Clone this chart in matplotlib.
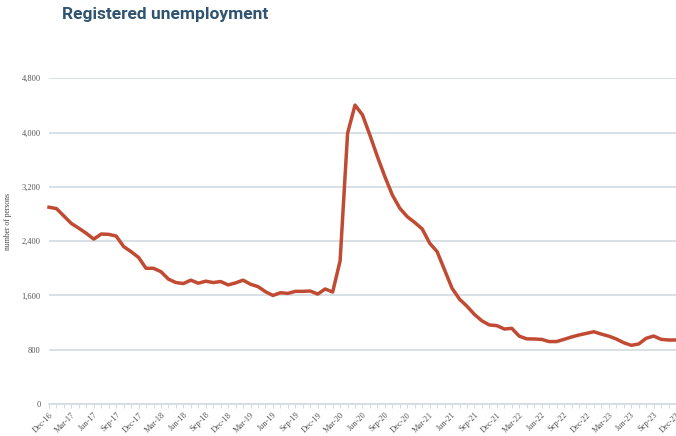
import numpy as np
import pandas as pd
import matplotlib
matplotlib.use("Agg")
import matplotlib.pyplot as plt
from matplotlib.ticker import MultipleLocator, FuncFormatter

# Monthly registered unemployment, Dec-16 .. Dec-23
months = pd.date_range("2016-12-01", "2023-12-01", freq="MS")
unemployed = [
    2900,
    2880, 2770, 2660, 2590, 2515, 2430, 2505, 2500, 2475, 2320, 2245, 2160,   # 2017
    2000, 2000, 1950, 1840, 1790, 1775, 1825, 1780, 1810, 1790, 1805, 1755,   # 2018
    1785, 1825, 1765, 1730, 1655, 1600, 1640, 1630, 1660, 1660, 1665, 1620,   # 2019
    1695, 1650, 2110, 3990, 4405, 4260, 3960, 3645, 3350, 3080, 2885, 2760,   # 2020
    2675, 2580, 2370, 2245, 1975, 1705, 1545, 1440, 1320, 1225, 1165, 1155,   # 2021
    1105, 1115, 1000, 960, 958, 952, 920, 920, 953, 987, 1017, 1041,          # 2022
    1065, 1030, 1000, 958, 903, 865, 884, 968, 1002, 953, 943, 943,           # 2023
]
y_ticks = [0, 800, 1600, 2400, 3200, 4000, 4800]
tick_labels = [d.strftime("%b-%y") for d in months]

W, H = 676, 436
fig = plt.figure(figsize=(W / 100, H / 100), dpi=100)
ax = fig.add_axes([49 / W, 1 - 404 / H, (676 - 49) / W, (404 - 78.3) / H])

x = np.arange(len(months))
ax.plot(x, unemployed, color="#c14a33", linewidth=2.5, solid_joinstyle="round", clip_on=False, zorder=3)

ax.set_xlim(0, len(months) - 1)
ax.set_ylim(0, 4800)
ax.set_yticks(y_ticks)
ax.yaxis.set_major_formatter(FuncFormatter(lambda v, p: f"{int(v):,}"))
ax.grid(axis="y", color="#d3dce2", linewidth=1.2)
ax.set_axisbelow(True)

ax.set_xticks(x[::3])
ax.set_xticklabels(tick_labels[::3], rotation=45, ha="right", va="top",
                   rotation_mode="anchor", fontsize=6, family="Liberation Serif", color="#555555")
ax.xaxis.set_minor_locator(MultipleLocator(1))
ax.tick_params(axis="x", which="both", length=3, width=0.8, color="#d3dce2", pad=2)
ax.tick_params(axis="y", length=0, pad=6, labelsize=6, labelcolor="#555555")
for lab in ax.get_yticklabels():
    lab.set_family("Liberation Serif")

for s in ["top", "right", "left"]:
    ax.spines[s].set_visible(False)
ax.spines["bottom"].set_color("#d3dce2")
ax.spines["bottom"].set_linewidth(1.2)

fig.text(8 / W, 1 - 222 / H, "number of persons", rotation=90, ha="center", va="center",
         fontsize=5.5, family="Liberation Serif", color="#444444")
fig.text(62 / W, 1 - 15 / H, "Registered unemployment", ha="left", va="center",
         fontsize=12.5, family="Roboto", fontweight="bold", color="#2f5370")

fig.savefig("out.png", dpi=100)
